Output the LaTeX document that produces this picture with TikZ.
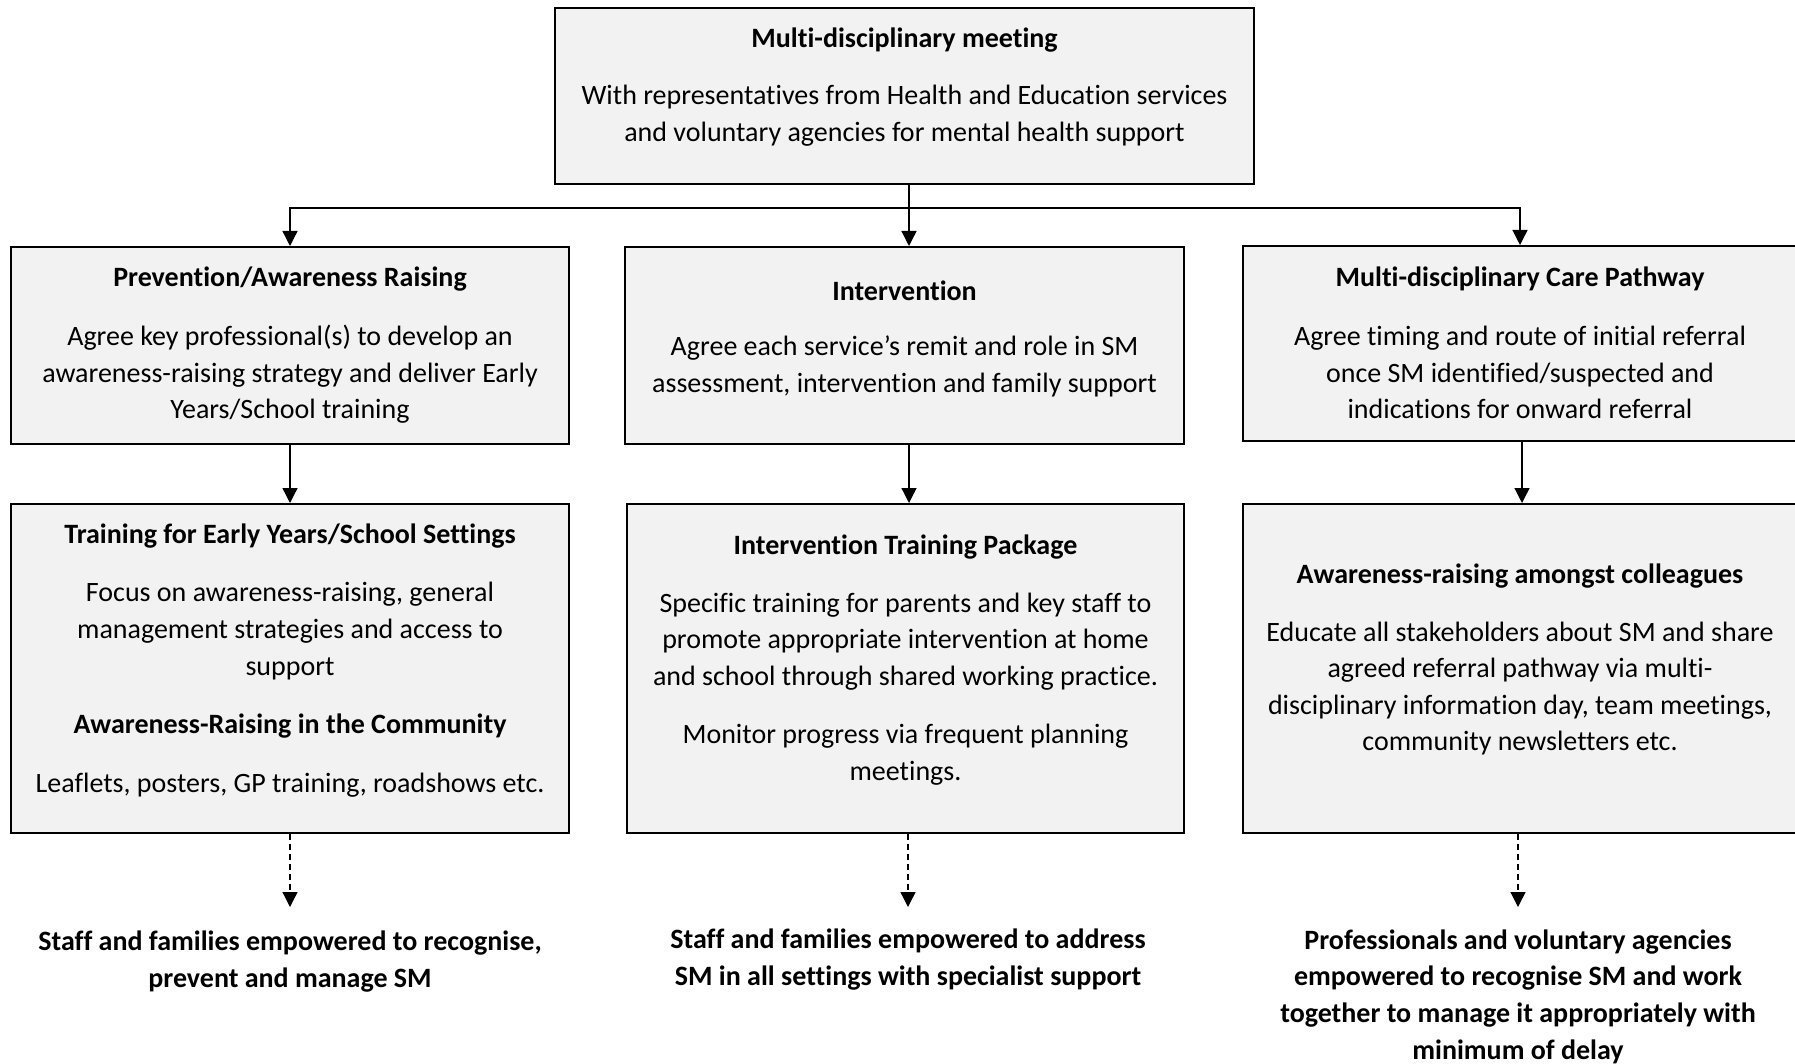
\documentclass[tikz,border=0pt]{standalone}
\usepackage{fontspec}
\setmainfont{Carlito}[Ligatures=NoCommon]
\usetikzlibrary{arrows.meta}
\tikzset{
  x=1pt, y=-1pt,
  box/.style={draw=black, line width=2pt, fill=boxgray, inner sep=0pt},
  txt/.style={align=center, inner sep=0pt, font=\fontsize{28}{36.6}\selectfont},
  btxt/.style={txt, font=\fontsize{28}{36.6}\selectfont\bfseries},
  arr/.style={line width=1.3pt, -{Triangle[width=15pt,length=15pt]}},
  darr/.style={arr, dash pattern=on 6pt off 4pt},
  link/.style={line width=1.3pt}
}
\definecolor{boxgray}{HTML}{F2F2F2}
\begin{document}
\begin{tikzpicture}
\useasboundingbox (0,0) rectangle (1795,1064);
% boxes
\node[box, minimum width=699pt, minimum height=176pt] (top) at (904.5,96) {};
\node[box, minimum width=558pt, minimum height=197pt] (p1) at (290,345.5) {};
\node[box, minimum width=559pt, minimum height=197pt] (i1) at (904.5,345.5) {};
\node[box, minimum width=554pt, minimum height=195pt] (c1) at (1520,343.5) {};
\node[box, minimum width=558pt, minimum height=329pt] (p2) at (290,668.5) {};
\node[box, minimum width=557pt, minimum height=329pt] (i2) at (905.5,668.5) {};
\node[box, minimum width=558pt, minimum height=329pt] (c2) at (1522,668.5) {};
\begin{scope}[yshift=-2.5pt]
% top text
\node[btxt] (t0) at (904.5,37.8) {Multi-disciplinary meeting};
\node[txt] (t1) at (904.5,113.3) {With representatives from Health and Education services\\and voluntary agencies for mental health support};
% row 1
\node[btxt] (tp1) at (290,277) {Prevention/Awareness Raising};
\node[txt] (bp1) at (290,372) {Agree key professional(s) to develop an\\awareness-raising strategy and deliver Early\\Years/School training};
\node[btxt] (ti1) at (904.5,288.5) {Intervention};
\node[txt] (bi1) at (904.5,364) {Agree each service’s remit and role in SM\\assessment, intervention and family support};
\node[btxt] (tc1) at (1520,276) {Multi-disciplinary Care Pathway};
\node[txt] (bc1) at (1520,370) {Agree timing and route of initial referral\\once SM identified/suspected and\\indications for onward referral};
% row 2
\node[btxt] (tp2) at (290,533.5) {Training for Early Years/School Settings};
\node[txt] (bp2) at (290,628.5) {Focus on awareness-raising, general\\management strategies and access to\\support};
\node[btxt] (tp3) at (290,723.5) {Awareness-Raising in the Community};
\node[txt] (bp3) at (290,783) {Leaflets, posters, GP training, roadshows etc.};
\node[btxt] (ti2) at (905.5,545) {Intervention Training Package};
\node[txt] (bi2) at (905.5,639) {Specific training for parents and key staff to\\promote appropriate intervention at home\\and school through shared working practice.};
\node[txt] (bi3) at (905.5,752) {Monitor progress via frequent planning\\meetings.};
\node[btxt] (tc2) at (1520,573.5) {Awareness-raising amongst colleagues};
\node[txt] (bc2) at (1520,686) {Educate all stakeholders about SM and share\\agreed referral pathway via multi-\\disciplinary information day, team meetings,\\community newsletters etc.};
% outcomes
\node[btxt] (o1) at (290,959.3) {Staff and families empowered to recognise,\\prevent and manage SM};
\node[btxt] (o2) at (908,957) {Staff and families empowered to address\\SM in all settings with specialist support};
\node[btxt] (o3) at (1518,994) {Professionals and voluntary agencies\\empowered to recognise SM and work\\together to manage it appropriately with\\minimum of delay};
\end{scope}
% connectors
\coordinate (j) at (909,208);
\draw[arr] (j |- top.south) -- (j |- i1.north);
\draw[link] (p1.north |- j) -- (c1.north |- j);
\draw[arr] (j) -| (p1.north);
\draw[arr] (j) -| (c1.north);
\draw[arr] (p1) -- (p2);
\draw[arr] (i1.south -| j) -- (i2.north -| j);
\draw[arr] (c1.south -| c2.north) -- (c2.north);
\coordinate (e1) at (290,907);
\coordinate (e2) at (908,907);
\coordinate (e3) at (1518,907);
\draw[darr] (p2.south) -- (e1);
\draw[darr] (i2.south -| e2) -- (e2);
\draw[darr] (c2.south -| e3) -- (e3);
\end{tikzpicture}
\end{document}
